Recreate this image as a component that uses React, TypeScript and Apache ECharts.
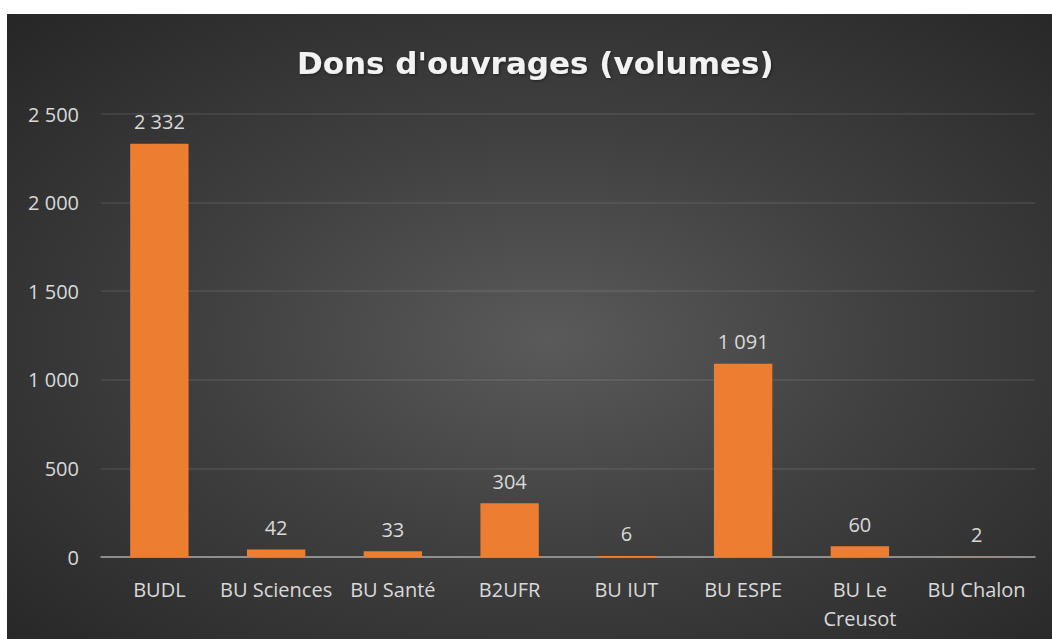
import React, { useEffect, useRef } from "react";
import * as echarts from "echarts";

const categories = ["BUDL", "BU Sciences", "BU Santé", "B2UFR", "BU IUT", "BU ESPE", "BU Le Creusot", "BU Chalon"];
const values = [2332, 42, 33, 304, 6, 1091, 60, 2];
const titleText = "Dons d'ouvrages (volumes)";

const fmt = (v: number) => {
  const s = String(Math.round(v));
  return s.replace(/\B(?=(\d{3})+(?!\d))/g, " ");
};

export default function App() {
  const ref = useRef<HTMLDivElement>(null);
  useEffect(() => {
    if (!ref.current) return;
    const chart = echarts.init(ref.current, null, { renderer: "svg" });
    const font = "'Open Sans', sans-serif";
    chart.setOption({
      animation: false,
      title: {
        text: titleText,
        left: 285,
        top: 28,
        textStyle: {
          color: "#f2f2f2",
          fontSize: 31,
          fontWeight: "bold",
          fontFamily: "'DejaVu Sans', sans-serif",
          textShadowColor: "rgba(0,0,0,0.45)",
          textShadowBlur: 3,
          textShadowOffsetX: 1,
          textShadowOffsetY: 1,
        },
      },
      grid: { left: 94, right: 17, top: 100, bottom: 82, containLabel: false },
      xAxis: {
        type: "category",
        data: categories,
        axisTick: { show: false },
        axisLine: { lineStyle: { color: "#a6a6a6", width: 1.5 } },
        axisLabel: {
          color: "#d9d9d9",
          fontSize: 20,
          fontFamily: font,
          margin: 18,
          lineHeight: 29,
          interval: 0,
          formatter: (v: string) => (v === "BU Le Creusot" ? "BU Le\nCreusot" : v),
        },
      },
      yAxis: {
        type: "value",
        min: 0,
        max: 2500,
        interval: 500,
        axisLine: { show: false },
        axisTick: { show: false },
        splitLine: { lineStyle: { color: "rgba(255,255,255,0.1)", width: 1.5 } },
        axisLabel: {
          color: "#d9d9d9",
          fontSize: 20,
          fontFamily: font,
          margin: 22,
          formatter: (v: number) => fmt(v),
        },
      },
      series: [
        {
          type: "bar",
          data: values,
          barWidth: "50%",
          itemStyle: { color: "#ed7d31" },
          label: {
            show: true,
            position: "top",
            distance: 12,
            color: "#d9d9d9",
            fontSize: 20,
            fontFamily: font,
            formatter: (p: any) => fmt(p.value),
          },
        },
      ],
    });
    return () => chart.dispose();
  }, []);
  return (
    <div
      style={{
        position: "absolute",
        left: 7,
        top: 14,
        width: 1045,
        height: 625,
        background: "radial-gradient(ellipse farthest-corner at 52% 52%, #5a5a5a 0%, #404040 45%, #262626 100%)",
      }}
    >
      <div ref={ref} style={{ width: 1045, height: 625 }} />
    </div>
  );
}
